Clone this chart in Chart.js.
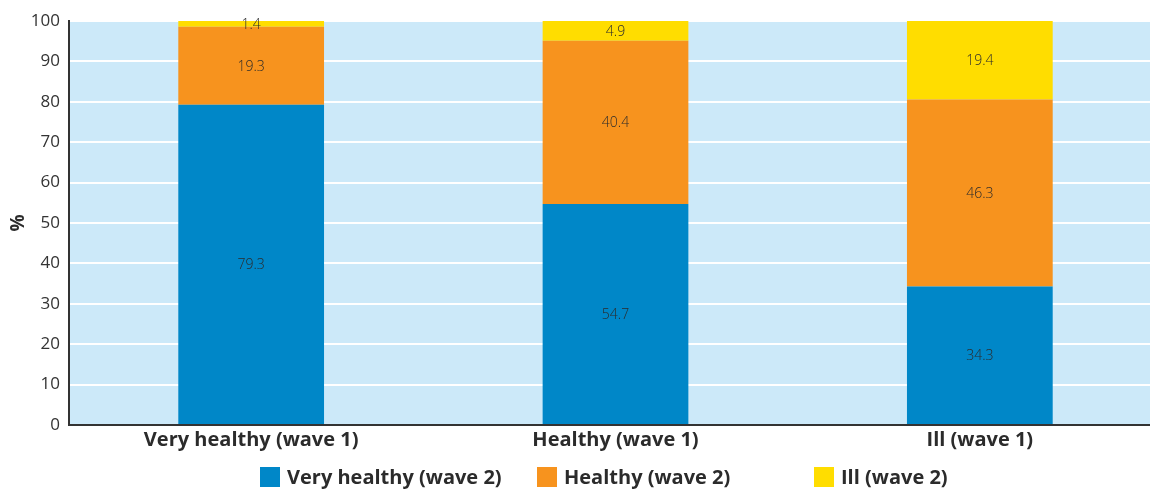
<!DOCTYPE html>
<html>
<head>
<meta charset="utf-8">
<script src="https://cdn.jsdelivr.net/npm/chart.js@4/dist/chart.umd.min.js"></script>
<style>
  html, body { margin: 0; padding: 0; background: #ffffff; overflow: hidden; }
  #wrap { width: 1150px; height: 489px; overflow: hidden; position: relative; }
  canvas { display: block; }
</style>
</head>
<body>
<div id="wrap"><canvas id="chart" width="1162" height="489"></canvas></div>
<script>
// Self-rated health in wave 2, by health status in wave 1 (%)
const categories = ['Very healthy (wave 1)', 'Healthy (wave 1)', 'Ill (wave 1)'];
const seriesNames = ['Very healthy (wave 2)', 'Healthy (wave 2)', 'Ill (wave 2)'];
const veryHealthyW2 = [79.3, 54.7, 34.3];
const healthyW2 = [19.3, 40.4, 46.3];
const illW2 = [1.4, 4.9, 19.4];
const yTicks = [0, 10, 20, 30, 40, 50, 60, 70, 80, 90, 100];

const colors = ['#0087c8', '#f7931e', '#ffdd00'];
const plotBg = '#cce9f9';
const textColor = '#2b2b2b';
const baseFont = '"Open Sans", "Liberation Sans", sans-serif';

// Light blue fill behind the plot area
const plotBackground = {
  id: 'plotBackground',
  beforeDraw(chart) {
    const { ctx, chartArea: a } = chart;
    ctx.save();
    ctx.fillStyle = plotBg;
    ctx.fillRect(a.left, a.top, a.right - a.left, a.bottom - a.top);
    ctx.restore();
  }
};

// Value printed in the middle of each stacked segment
const segmentLabels = {
  id: 'segmentLabels',
  afterDatasetsDraw(chart) {
    const { ctx } = chart;
    ctx.save();
    ctx.font = '300 14px ' + baseFont;
    ctx.fillStyle = textColor;
    ctx.textAlign = 'center';
    ctx.textBaseline = 'middle';
    chart.data.datasets.forEach((ds, i) => {
      chart.getDatasetMeta(i).data.forEach((bar, j) => {
        const v = ds.data[j];
        ctx.fillText(v.toFixed(1), bar.x, (bar.y + bar.base) / 2 + 1);
      });
    });
    ctx.restore();
  }
};

// Legend row laid out in equal-width columns under the axis labels
const columnLegend = {
  id: 'columnLegend',
  afterDraw(chart) {
    const { ctx } = chart;
    const startX = 260, colW = 277, boxSize = 20, midY = 477;
    ctx.save();
    ctx.font = 'bold 20px ' + baseFont;
    ctx.textBaseline = 'middle';
    ctx.textAlign = 'left';
    chart.data.datasets.forEach((ds, i) => {
      const x = startX + i * colW;
      ctx.fillStyle = ds.backgroundColor;
      ctx.fillRect(x, midY - boxSize / 2, boxSize, boxSize);
      ctx.fillStyle = textColor;
      ctx.fillText(ds.label, x + boxSize + 7, midY + 1);
    });
    ctx.restore();
  }
};

const seriesData = [veryHealthyW2, healthyW2, illW2];

new Chart(document.getElementById('chart'), {
  type: 'bar',
  data: {
    labels: categories,
    datasets: seriesNames.map((name, i) => ({
      label: name,
      data: seriesData[i],
      backgroundColor: colors[i],
      borderWidth: 0,
      barPercentage: 0.4,
      categoryPercentage: 1.0
    }))
  },
  options: {
    responsive: false,
    animation: false,
    devicePixelRatio: 1,
    layout: { padding: { top: 21, right: 0, bottom: 0, left: 0 } },
    plugins: {
      legend: { display: false },
      tooltip: { enabled: false }
    },
    scales: {
      x: {
        stacked: true,
        grid: { display: false, drawTicks: false },
        border: { display: true, color: '#333333', width: 2 },
        ticks: {
          color: textColor,
          font: { family: baseFont, weight: 'bold', size: 20 },
          padding: 3,
          maxRotation: 0
        },
        afterFit(scale) { scale.height = 64; }
      },
      y: {
        stacked: true,
        min: 0,
        max: 100,
        afterBuildTicks(scale) { scale.ticks = yTicks.map(v => ({ value: v })); },
        grid: { color: '#ffffff', lineWidth: 2, drawTicks: false },
        border: { display: true, color: '#333333', width: 2 },
        ticks: {
          color: '#333333',
          font: { family: baseFont, weight: 'normal', size: 17 },
          padding: 9
        },
        title: {
          display: true,
          text: '%',
          color: textColor,
          font: { family: baseFont, weight: 'bold', size: 19 },
          padding: { top: 7, bottom: 0 }
        },
        afterFit(scale) { scale.width = 69; }
      }
    }
  },
  plugins: [plotBackground, segmentLabels, columnLegend]
});
</script>
</body>
</html>
